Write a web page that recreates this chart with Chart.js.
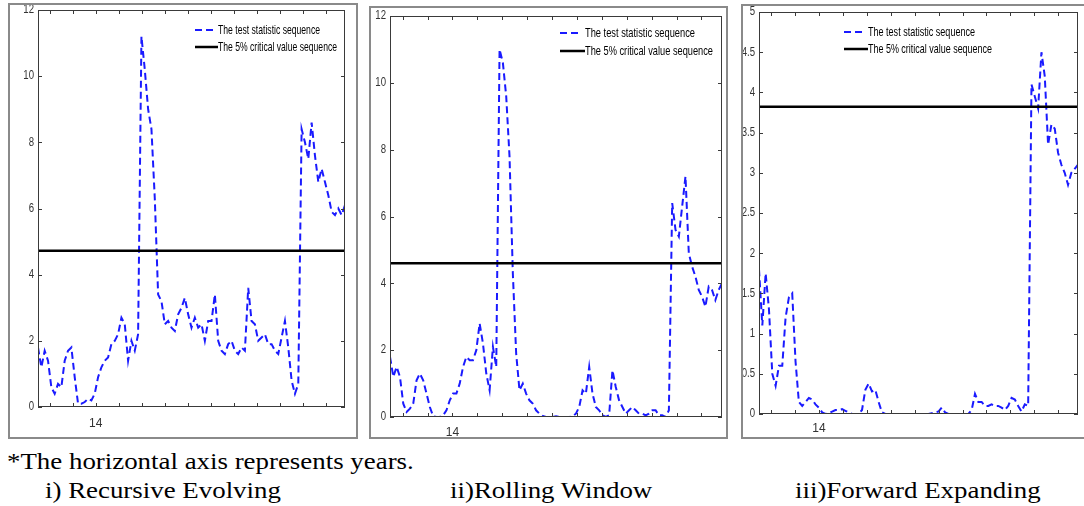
<!DOCTYPE html>
<html>
<head>
<meta charset="utf-8">
<script src="https://cdn.jsdelivr.net/npm/chart.js@4.4.1/dist/chart.umd.min.js"></script>
<style>
  body { margin: 0; background: #fff; width: 1084px; height: 506px; overflow: hidden; position: relative; }
  .frame { position: absolute; border: 2px solid #8a8a8a; background: #fff; }
  .frame canvas { display: block; }
  .cap {
    position: absolute; font-family: 'Liberation Serif', 'Times New Roman', serif;
    font-size: 24px; line-height: 24px; color: #000; white-space: nowrap;
    transform: scaleX(1.12); transform-origin: 0 0;
  }
</style>
</head>
<body>

<div class="frame" style="left:8px; top:3px; width:346px; height:432px;"><canvas id="chartRecursive" width="346" height="432"></canvas></div>
<div class="frame" style="left:369px; top:6px; width:355px; height:429px;"><canvas id="chartRolling" width="355" height="429"></canvas></div>
<div class="frame" style="left:741px; top:4px; width:342px; height:431px;"><canvas id="chartForward" width="342" height="431"></canvas></div>

<div class="cap" style="left:7px; top:449px;">*The horizontal axis represents years.</div>
<div class="cap" style="left:45px; top:478px;">i) Recursive Evolving</div>
<div class="cap" style="left:450px; top:478px;">ii)Rolling Window</div>
<div class="cap" style="left:795px; top:478px;">iii)Forward Expanding</div>

<script>
// Test statistic sequences (evenly spaced in time)
const recursiveStat = [
  1.8, 1.2, 1.7, 1.4, 0.6, 0.4, 0.7, 0.6, 1.4, 1.7,
  1.8, 0.9, 0.1, 0.1, 0.15, 0.25, 0.2, 0.4, 0.9, 1.2,
  1.4, 1.5, 1.9, 2.0, 2.2, 2.7, 2.5, 1.4, 2.0, 1.7,
  2.2, 11.2, 10.2, 9.0, 8.4, 6.3, 3.4, 3.2, 2.5, 2.6,
  2.4, 2.3, 2.8, 3.0, 3.3, 2.8, 2.4, 2.7, 2.4, 2.5,
  2.0, 2.6, 2.6, 3.4, 2.0, 1.7, 1.6, 1.9, 2.0, 1.7,
  1.6, 1.8, 1.7, 3.6, 2.6, 2.5, 2.0, 2.1, 2.2, 1.9,
  1.9, 1.7, 1.6, 2.1, 2.6, 1.8, 0.8, 0.4, 0.7, 8.4,
  8.0, 7.5, 8.6, 7.6, 6.8, 7.2, 6.8, 6.4, 5.9, 5.8,
  6.0, 5.8, 6.1
];
const rollingStat = [
  1.8, 1.2, 1.5, 1.2, 0.4, 0.15, 0.25, 0.4, 1.1, 1.3,
  1.1, 0.7, 0.3, 0.02, 0.0, 0.0, 0.05, 0.2, 0.5, 0.7,
  0.7, 1.0, 1.5, 1.8, 1.7, 1.7, 2.0, 2.8, 2.2, 1.3,
  0.8, 2.1, 1.5, 11.0, 10.6, 9.6, 7.8, 4.3, 1.9, 0.8,
  1.0, 0.7, 0.5, 0.4, 0.2, 0.1, 0.03, 0.0, 0.0, 0.0,
  0.02, 0.0, 0.0, 0.0, 0.0, 0.02, 0.1, 0.3, 0.8, 0.7,
  1.5, 0.7, 0.3, 0.2, 0.05, 0.0, 0.05, 1.4, 0.9, 0.5,
  0.3, 0.1, 0.2, 0.3, 0.2, 0.1, 0.1, 0.05, 0.1, 0.2,
  0.2, 0.05, 0.05, 0.0, 0.2, 6.4, 5.6, 5.4, 6.3, 7.2,
  4.9, 4.5, 4.2, 3.8, 3.6, 3.3, 3.9, 3.8, 3.5, 3.8,
  4.0
];
const forwardStat = [
  1.8, 1.1, 1.75, 1.3, 0.5, 0.35, 0.6, 0.6, 1.2, 1.45,
  1.5, 0.65, 0.15, 0.1, 0.15, 0.2, 0.18, 0.12, 0.08, 0.02,
  0.0, 0.01, 0.03, 0.05, 0.05, 0.06, 0.04, 0.02, 0.0, 0.0,
  0.0, 0.05, 0.3, 0.38, 0.28, 0.3, 0.15, 0.02, 0.0, 0.0,
  0.0, 0.0, 0.0, 0.0, 0.0, 0.0, 0.0, 0.0, 0.0, 0.0,
  0.0, 0.0, 0.01, 0.02, 0.03, 0.08, 0.02, 0.0, 0.0, 0.0,
  0.0, 0.0, 0.0, 0.0, 0.05, 0.25, 0.15, 0.15, 0.1, 0.1,
  0.12, 0.1, 0.1, 0.08, 0.05, 0.1, 0.2, 0.18, 0.1, 0.03,
  0.12, 0.1, 4.1, 3.95, 3.8, 4.5, 4.2, 3.35, 3.6, 3.55,
  3.25, 3.1, 3.0, 2.85, 3.0, 3.05, 3.1
];

// 5% critical values
const recursiveCrit = 4.72;
const rollingCrit = 4.6;
const forwardCrit = 3.82;

// Tick labels
const xTickLabels = ['14'];
const legendLabels = ['The test statistic sequence', 'The 5% critical value sequence'];

const sansFont = "'Liberation Sans', Arial, sans-serif";

// MATLAB-style box, inward tick marks, y labels and legend inside the axes
const matBox = {
  id: 'matBox',
  afterDatasetsDraw(chart, args, opts) {
    const { ctx, chartArea: a, scales } = chart;
    ctx.save();
    ctx.strokeStyle = '#3a3a3a';
    ctx.lineWidth = 1;
    ctx.strokeRect(a.left + 0.5, a.top + 0.5, a.width - 1, a.height - 1);

    const seg = (x1, y1, x2, y2) => { ctx.beginPath(); ctx.moveTo(x1, y1); ctx.lineTo(x2, y2); ctx.stroke(); };

    // y ticks + squeezed labels
    ctx.font = '12px ' + sansFont;
    ctx.fillStyle = '#333';
    ctx.textAlign = 'right';
    ctx.textBaseline = 'middle';
    scales.y.ticks.forEach(t => {
      const yp = scales.y.getPixelForValue(t.value);
      const y = Math.round(yp) + 0.5;
      seg(a.left, y, a.left + 4, y);
      seg(a.right - 4, y, a.right, y);
      const w = ctx.measureText(t.label).width;
      ctx.fillText(t.label, a.left - 4, yp, w * 0.8);
    });

    for (let k = -3; k < 14; k++) {
      const f = opts.labelFrac + k * opts.stepFrac;
      if (f <= 0.01 || f >= 0.99) continue;
      const x = Math.round(a.left + f * a.width) + 0.5;
      seg(x, a.bottom, x, a.bottom - 4);
      seg(x, a.top, x, a.top + 4);
    }

    // legend
    const L = opts.legend;
    ctx.font = '13px ' + sansFont;
    ctx.textAlign = 'left';
    ctx.textBaseline = 'middle';
    ctx.fillStyle = '#000';

    ctx.strokeStyle = '#1a1aff';
    ctx.lineWidth = 2;
    ctx.setLineDash([7, 4]);
    seg(L.x, L.y1, L.x + 18, L.y1);
    ctx.setLineDash([]);
    ctx.strokeStyle = '#000';
    ctx.lineWidth = 2.5;
    seg(L.x, L.y2, L.tx, L.y2);

    ctx.fillText(legendLabels[0], L.tx, L.y1, L.w1);
    ctx.fillText(legendLabels[1], L.tx, L.y2, L.w2);
    ctx.restore();
  }
};

function makeChart(id, stat, crit, cfg) {
  const n = stat.length;
  const statPts = stat.map((v, i) => ({ x: i, y: v }));
  const critPts = stat.map((v, i) => ({ x: i, y: crit }));

  return new Chart(document.getElementById(id), {
    type: 'line',
    data: {
      datasets: [
        {
          label: legendLabels[0],
          data: statPts,
          borderColor: '#1a1aff',
          borderWidth: 2,
          borderDash: [7, 4],
          pointRadius: 0,
          tension: 0,
          order: 2
        },
        {
          label: legendLabels[1],
          data: critPts,
          borderColor: '#000',
          borderWidth: 2.5,
          pointRadius: 0,
          tension: 0,
          order: 1
        }
      ]
    },
    options: {
      responsive: false,
      animation: false,
      layout: { padding: { top: cfg.padTop, right: cfg.padRight, left: 0, bottom: 0 } },
      plugins: {
        legend: { display: false },
        tooltip: { enabled: false },
        matBox: { labelFrac: 0.188, stepFrac: 0.075, legend: cfg.legend }
      },
      scales: {
        x: {
          type: 'linear',
          min: 0,
          max: n - 1,
          grid: { display: false, drawTicks: false },
          border: { display: false },
          afterBuildTicks: (s) => { s.ticks = [{ value: 0.188 * (n - 1) }]; },
          afterFit: (s) => { s.height = cfg.xHeight; s.paddingLeft = 0; s.paddingRight = 0; },
          ticks: {
            callback: () => xTickLabels[0],
            maxRotation: 0,
            autoSkip: false,
            padding: cfg.xPad,
            color: '#333',
            font: { family: sansFont, size: 12 }
          }
        },
        y: {
          min: 0,
          max: cfg.yMax,
          grid: { display: false, drawTicks: false },
          border: { display: false },
          afterFit: (s) => { s.width = cfg.yWidth; s.paddingTop = 0; s.paddingBottom = 0; },
          ticks: {
            display: false,
            stepSize: cfg.yStep,
            callback: (v) => String(Math.round(v * 10) / 10)
          }
        }
      }
    },
    plugins: [matBox]
  });
}

makeChart('chartRecursive', recursiveStat, recursiveCrit, {
  yMax: 12, yStep: 2, yWidth: 28, xHeight: 30, padTop: 5, padRight: 11, xPad: 9,
  legend: { x: 185, tx: 208, y1: 25, y2: 42, w1: 102, w2: 119 }
});
makeChart('chartRolling', rollingStat, rollingCrit, {
  yMax: 12, yStep: 2, yWidth: 19, xHeight: 20, padTop: 8, padRight: 4, xPad: 8,
  legend: { x: 189, tx: 214, y1: 25, y2: 43, w1: 110, w2: 128 }
});
makeChart('chartForward', forwardStat, forwardCrit, {
  yMax: 5, yStep: 0.5, yWidth: 16, xHeight: 23, padTop: 6, padRight: 7, xPad: 7,
  legend: { x: 101, tx: 125, y1: 26, y2: 43, w1: 107, w2: 124 }
});
</script>
</body>
</html>
